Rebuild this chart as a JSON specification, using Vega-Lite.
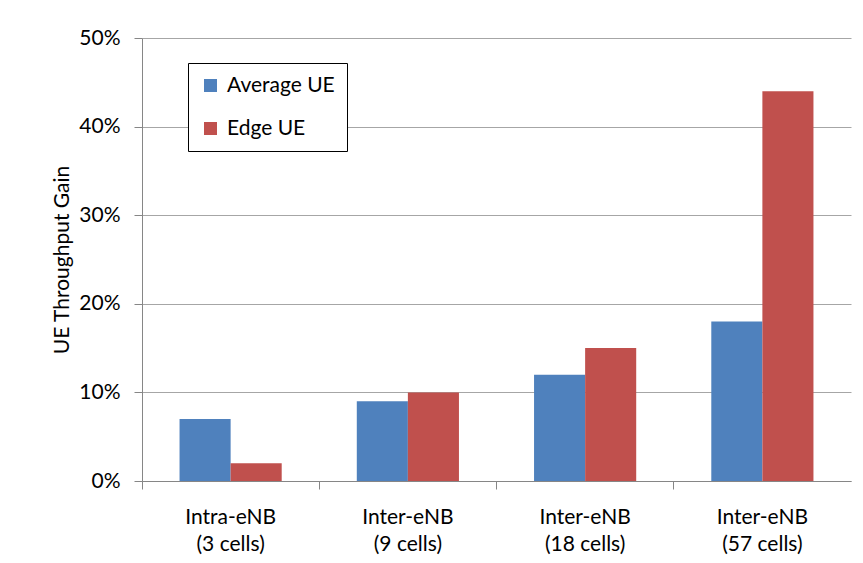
{
  "$schema": "https://vega.github.io/schema/vega-lite/v6.json",
  "autosize": "none",
  "width": 709,
  "height": 443,
  "padding": {"left": 142, "top": 38, "right": 12, "bottom": 82},
  "background": "white",
  "config": {
    "font": "Lato",
    "view": {"stroke": null},
    "axis": {"labelFont": "Lato", "titleFont": "Lato", "labelColor": "#000", "titleColor": "#000"}
  },
  "data": {
    "values": [
      {"group": "Intra-eNB|(3 cells)", "series": "Average UE", "gain": 0.07},
      {"group": "Intra-eNB|(3 cells)", "series": "Edge UE", "gain": 0.02},
      {"group": "Inter-eNB|(9 cells)", "series": "Average UE", "gain": 0.09},
      {"group": "Inter-eNB|(9 cells)", "series": "Edge UE", "gain": 0.10},
      {"group": "Inter-eNB|(18 cells)", "series": "Average UE", "gain": 0.12},
      {"group": "Inter-eNB|(18 cells)", "series": "Edge UE", "gain": 0.15},
      {"group": "Inter-eNB|(57 cells)", "series": "Average UE", "gain": 0.18},
      {"group": "Inter-eNB|(57 cells)", "series": "Edge UE", "gain": 0.44}
    ]
  },
  "mark": {"type": "bar"},
  "encoding": {
    "x": {
      "field": "group", "type": "nominal", "sort": null,
      "scale": {"paddingInner": 0, "paddingOuter": 0},
      "axis": {
        "title": null, "labelAngle": 0, "labelExpr": "split(datum.label, '|')",
        "labelFontSize": 21, "labelLineHeight": 27, "labelPadding": 17,
        "bandPosition": 0, "tickSize": 8, "tickColor": "#868686",
        "domainColor": "#868686", "grid": false
      }
    },
    "xOffset": {
      "field": "series", "type": "nominal",
      "scale": {"paddingInner": 0, "paddingOuter": 0.735}
    },
    "y": {
      "field": "gain", "type": "quantitative",
      "scale": {"domain": [0, 0.5], "nice": false},
      "axis": {
        "title": "UE Throughput Gain", "format": ".0%", "values": [0, 0.1, 0.2, 0.3, 0.4, 0.5],
        "labelOverlap": false, "labelFontSize": 21, "labelPadding": 14,
        "titleFontSize": 21, "titleFontWeight": "normal",
        "titlePadding": 6, "tickSize": 8, "tickColor": "#868686", "domainColor": "#868686",
        "gridColor": "#A6A6A6", "gridWidth": 1
      }
    },
    "color": {
      "field": "series", "type": "nominal",
      "scale": {"domain": ["Average UE", "Edge UE"], "range": ["#4F81BD", "#C0504D"]},
      "legend": {
        "title": null, "orient": "none", "legendX": 46, "legendY": 25,
        "direction": "vertical", "symbolType": "square", "symbolSize": 169,
        "symbolStrokeWidth": 0, "labelFontSize": 21, "labelFont": "Lato",
        "rowPadding": 21, "padding": 12, "strokeColor": "#000", "fillColor": "white",
        "labelOffset": 6
      }
    }
  }
}
